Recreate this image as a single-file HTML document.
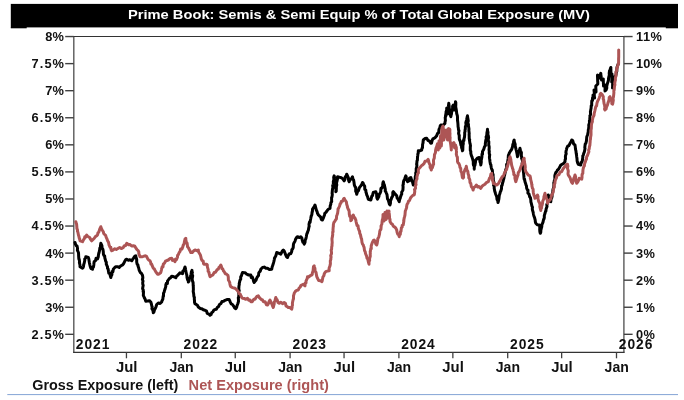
<!DOCTYPE html>
<html><head><meta charset="utf-8"><title>Prime Book</title>
<style>
html,body{margin:0;padding:0;background:#fff;}
body{width:684px;height:400px;overflow:hidden;}
svg{display:block;will-change:transform;transform:translateZ(0);filter:blur(0.3px);}
text{font-family:"Liberation Sans",sans-serif;font-weight:bold;}
</style></head><body>
<svg width="684" height="400" viewBox="0 0 684 400">
<rect x="0" y="0" width="684" height="400" fill="#ffffff"/>

<rect x="10.8" y="3.9" width="667.2" height="23.5" fill="#000"/>
<rect x="10.8" y="27" width="15.9" height="1.3" fill="#000"/>
<rect x="665.8" y="27" width="12.2" height="1.3" fill="#000"/>
<text x="359" y="19.4" font-size="13.2" text-anchor="middle" fill="#fff" style="font-weight:bold" textLength="462" lengthAdjust="spacingAndGlyphs">Prime Book: Semis &amp; Semi Equip % of Total Global Exposure (MV)</text>
<rect x="7.3" y="394" width="670.7" height="1.1" fill="#8facd9"/>
<path d="M73.8 36.5 V352.4 M623.9 36.5 V352.4" fill="none" stroke="#5a5a5a" stroke-width="1.4"/>
<path d="M73.1 36.5 H624.6 M73.1 352.4 H624.6" fill="none" stroke="#333" stroke-width="1.1"/>
<path d="M65.2 36.55 H73.8" stroke="#404040" stroke-width="1.4"/>
<text x="45.2" y="40.95" font-size="12.8" fill="#111" textLength="18.8" lengthAdjust="spacing">8%</text>
<path d="M65.2 63.62 H73.8" stroke="#404040" stroke-width="1.4"/>
<text x="31.5" y="68.02" font-size="12.8" fill="#111" textLength="32.5" lengthAdjust="spacing">7.5%</text>
<path d="M65.2 90.69 H73.8" stroke="#404040" stroke-width="1.4"/>
<text x="45.2" y="95.09" font-size="12.8" fill="#111" textLength="18.8" lengthAdjust="spacing">7%</text>
<path d="M65.2 117.76 H73.8" stroke="#404040" stroke-width="1.4"/>
<text x="31.5" y="122.16" font-size="12.8" fill="#111" textLength="32.5" lengthAdjust="spacing">6.5%</text>
<path d="M65.2 144.83 H73.8" stroke="#404040" stroke-width="1.4"/>
<text x="45.2" y="149.23" font-size="12.8" fill="#111" textLength="18.8" lengthAdjust="spacing">6%</text>
<path d="M65.2 171.90 H73.8" stroke="#404040" stroke-width="1.4"/>
<text x="31.5" y="176.30" font-size="12.8" fill="#111" textLength="32.5" lengthAdjust="spacing">5.5%</text>
<path d="M65.2 198.97 H73.8" stroke="#404040" stroke-width="1.4"/>
<text x="45.2" y="203.37" font-size="12.8" fill="#111" textLength="18.8" lengthAdjust="spacing">5%</text>
<path d="M65.2 226.04 H73.8" stroke="#404040" stroke-width="1.4"/>
<text x="31.5" y="230.44" font-size="12.8" fill="#111" textLength="32.5" lengthAdjust="spacing">4.5%</text>
<path d="M65.2 253.11 H73.8" stroke="#404040" stroke-width="1.4"/>
<text x="45.2" y="257.51" font-size="12.8" fill="#111" textLength="18.8" lengthAdjust="spacing">4%</text>
<path d="M65.2 280.18 H73.8" stroke="#404040" stroke-width="1.4"/>
<text x="31.5" y="284.58" font-size="12.8" fill="#111" textLength="32.5" lengthAdjust="spacing">3.5%</text>
<path d="M65.2 307.25 H73.8" stroke="#404040" stroke-width="1.4"/>
<text x="45.2" y="311.65" font-size="12.8" fill="#111" textLength="18.8" lengthAdjust="spacing">3%</text>
<path d="M65.2 334.32 H73.8" stroke="#404040" stroke-width="1.4"/>
<text x="31.5" y="338.72" font-size="12.8" fill="#111" textLength="32.5" lengthAdjust="spacing">2.5%</text>
<path d="M623.9 36.55 H632.6" stroke="#404040" stroke-width="1.4"/>
<text x="636" y="40.95" font-size="12.8" fill="#111" textLength="26" lengthAdjust="spacing">11%</text>
<path d="M623.9 63.62 H632.6" stroke="#404040" stroke-width="1.4"/>
<text x="636" y="68.02" font-size="12.8" fill="#111" textLength="26" lengthAdjust="spacing">10%</text>
<path d="M623.9 90.69 H632.6" stroke="#404040" stroke-width="1.4"/>
<text x="636" y="95.09" font-size="12.8" fill="#111" textLength="18.8" lengthAdjust="spacing">9%</text>
<path d="M623.9 117.76 H632.6" stroke="#404040" stroke-width="1.4"/>
<text x="636" y="122.16" font-size="12.8" fill="#111" textLength="18.8" lengthAdjust="spacing">8%</text>
<path d="M623.9 144.83 H632.6" stroke="#404040" stroke-width="1.4"/>
<text x="636" y="149.23" font-size="12.8" fill="#111" textLength="18.8" lengthAdjust="spacing">7%</text>
<path d="M623.9 171.90 H632.6" stroke="#404040" stroke-width="1.4"/>
<text x="636" y="176.30" font-size="12.8" fill="#111" textLength="18.8" lengthAdjust="spacing">6%</text>
<path d="M623.9 198.97 H632.6" stroke="#404040" stroke-width="1.4"/>
<text x="636" y="203.37" font-size="12.8" fill="#111" textLength="18.8" lengthAdjust="spacing">5%</text>
<path d="M623.9 226.04 H632.6" stroke="#404040" stroke-width="1.4"/>
<text x="636" y="230.44" font-size="12.8" fill="#111" textLength="18.8" lengthAdjust="spacing">4%</text>
<path d="M623.9 253.11 H632.6" stroke="#404040" stroke-width="1.4"/>
<text x="636" y="257.51" font-size="12.8" fill="#111" textLength="18.8" lengthAdjust="spacing">3%</text>
<path d="M623.9 280.18 H632.6" stroke="#404040" stroke-width="1.4"/>
<text x="636" y="284.58" font-size="12.8" fill="#111" textLength="18.8" lengthAdjust="spacing">2%</text>
<path d="M623.9 307.25 H632.6" stroke="#404040" stroke-width="1.4"/>
<text x="636" y="311.65" font-size="12.8" fill="#111" textLength="18.8" lengthAdjust="spacing">1%</text>
<path d="M623.9 334.32 H632.6" stroke="#404040" stroke-width="1.4"/>
<text x="636" y="338.72" font-size="12.8" fill="#111" textLength="18.8" lengthAdjust="spacing">0%</text>
<path d="M126.45 352.4 V358.3" stroke="#404040" stroke-width="1.3"/>
<text x="115.95" y="372.3" font-size="14" fill="#111" textLength="21.5" lengthAdjust="spacingAndGlyphs">Jul</text>
<path d="M235.25 352.4 V358.3" stroke="#404040" stroke-width="1.3"/>
<text x="224.75" y="372.3" font-size="14" fill="#111" textLength="21.5" lengthAdjust="spacingAndGlyphs">Jul</text>
<path d="M344.05 352.4 V358.3" stroke="#404040" stroke-width="1.3"/>
<text x="333.55" y="372.3" font-size="14" fill="#111" textLength="21.5" lengthAdjust="spacingAndGlyphs">Jul</text>
<path d="M452.85 352.4 V358.3" stroke="#404040" stroke-width="1.3"/>
<text x="442.35" y="372.3" font-size="14" fill="#111" textLength="21.5" lengthAdjust="spacingAndGlyphs">Jul</text>
<path d="M561.65 352.4 V358.3" stroke="#404040" stroke-width="1.3"/>
<text x="551.15" y="372.3" font-size="14" fill="#111" textLength="21.5" lengthAdjust="spacingAndGlyphs">Jul</text>
<path d="M181.30 352.4 V358.3" stroke="#404040" stroke-width="1.3"/>
<text x="169.40" y="372.3" font-size="14" fill="#111" textLength="24.2" lengthAdjust="spacingAndGlyphs">Jan</text>
<path d="M290.10 352.4 V358.3" stroke="#404040" stroke-width="1.3"/>
<text x="278.20" y="372.3" font-size="14" fill="#111" textLength="24.2" lengthAdjust="spacingAndGlyphs">Jan</text>
<path d="M398.90 352.4 V358.3" stroke="#404040" stroke-width="1.3"/>
<text x="387.00" y="372.3" font-size="14" fill="#111" textLength="24.2" lengthAdjust="spacingAndGlyphs">Jan</text>
<path d="M507.70 352.4 V358.3" stroke="#404040" stroke-width="1.3"/>
<text x="495.80" y="372.3" font-size="14" fill="#111" textLength="24.2" lengthAdjust="spacingAndGlyphs">Jan</text>
<path d="M616.50 352.4 V358.3" stroke="#404040" stroke-width="1.3"/>
<text x="604.60" y="372.3" font-size="14" fill="#111" textLength="24.2" lengthAdjust="spacingAndGlyphs">Jan</text>
<text x="75.80" y="348.9" font-size="13.8" fill="#111" textLength="33.6" lengthAdjust="spacing">2021</text>
<text x="183.60" y="348.9" font-size="13.8" fill="#111" textLength="33.6" lengthAdjust="spacing">2022</text>
<text x="292.40" y="348.9" font-size="13.8" fill="#111" textLength="33.6" lengthAdjust="spacing">2023</text>
<text x="401.20" y="348.9" font-size="13.8" fill="#111" textLength="33.6" lengthAdjust="spacing">2024</text>
<text x="510.00" y="348.9" font-size="13.8" fill="#111" textLength="33.6" lengthAdjust="spacing">2025</text>
<text x="618.80" y="348.9" font-size="13.8" fill="#111" textLength="33.6" lengthAdjust="spacing">2026</text>
<text x="32.3" y="389.8" font-size="14.3" fill="#111" textLength="146" lengthAdjust="spacingAndGlyphs">Gross Exposure (left)</text>
<text x="188.6" y="389.8" font-size="14.3" fill="#ad5555" textLength="140.3" lengthAdjust="spacingAndGlyphs">Net Exposure (right)</text>
<path d="M75.0 242.5 L75.4 244.0 L76.2 245.6 L77.0 245.9 L77.5 248.3 L77.4 250.6 L77.7 250.8 L78.5 252.8 L78.6 254.4 L78.6 255.2 L78.8 258.3 L79.0 259.6 L79.3 259.6 L79.6 262.3 L79.4 262.6 L80.0 265.1 L80.0 266.7 L82.5 268.3 L83.1 267.7 L83.5 266.3 L83.7 264.6 L84.1 263.5 L84.8 260.2 L84.7 259.0 L85.7 258.0 L85.8 256.7 L88.3 257.5 L88.7 258.6 L89.0 260.3 L89.3 262.3 L89.8 264.6 L90.2 266.2 L90.7 267.8 L90.8 268.3 L92.5 269.2 L93.0 267.0 L93.4 267.2 L93.8 264.9 L94.0 262.6 L94.2 261.7 L95.5 260.6 L96.1 258.2 L97.5 259.0 L98.3 256.7 L98.3 255.9 L98.8 253.0 L99.0 252.8 L99.7 249.7 L99.8 248.3 L100.1 247.4 L100.5 247.3 L100.5 245.9 L100.8 243.3 L101.2 244.0 L101.9 245.6 L102.1 248.1 L102.9 249.3 L103.3 251.7 L103.4 254.0 L103.9 255.7 L104.7 256.0 L104.8 257.8 L105.3 259.5 L105.6 261.0 L106.3 262.3 L106.3 264.3 L106.6 264.8 L107.5 266.8 L107.5 268.3 L108.1 268.8 L108.5 271.5 L108.8 273.2 L109.8 273.5 L110.3 275.9 L110.8 277.5 L111.4 275.5 L111.9 274.7 L112.0 271.6 L112.9 271.9 L113.3 269.2 L114.4 267.9 L115.8 266.7 L117.6 266.7 L119.2 267.5 L120.8 265.8 L122.5 265.0 L123.5 263.8 L124.5 261.8 L125.8 259.6 L126.7 259.2 L128.4 260.3 L129.9 259.7 L131.7 260.8 L132.9 259.0 L133.5 258.2 L134.9 256.2 L135.8 255.8 L135.9 257.0 L136.5 258.8 L136.7 259.7 L136.7 262.0 L137.1 264.0 L138.0 265.2 L138.0 266.1 L138.7 268.0 L139.2 270.3 L140.5 272.7 L141.2 273.1 L142.5 275.3 L142.8 277.2 L142.8 278.0 L142.4 279.5 L143.0 281.0 L142.7 282.8 L142.8 284.3 L143.2 285.3 L142.6 288.6 L143.3 290.2 L143.1 291.7 L143.5 291.6 L143.4 294.5 L143.3 295.3 L144.0 296.8 L144.4 297.9 L145.0 298.8 L145.8 301.2 L147.5 301.0 L149.4 300.7 L150.8 302.0 L151.4 304.0 L151.8 306.0 L152.2 306.8 L151.9 308.7 L152.4 309.3 L153.1 311.3 L153.3 312.8 L153.9 312.1 L154.7 309.1 L155.2 308.6 L156.0 306.8 L156.7 304.5 L158.3 303.0 L160.1 303.5 L161.7 302.0 L161.9 301.0 L162.8 299.3 L163.2 295.9 L163.5 296.1 L163.5 293.2 L164.2 292.0 L164.5 290.5 L165.1 288.9 L165.8 286.3 L165.8 285.0 L166.3 283.3 L167.4 283.5 L167.5 281.2 L168.3 280.0 L169.5 278.3 L170.5 277.8 L171.7 276.2 L173.8 276.7 L175.8 277.8 L176.6 276.2 L177.6 275.4 L179.1 273.8 L180.0 272.8 L182.5 273.7 L182.8 271.3 L183.7 270.6 L184.6 268.4 L185.0 267.0 L185.5 268.8 L185.6 269.7 L186.0 271.9 L186.3 273.4 L186.6 273.9 L187.0 276.4 L187.0 277.3 L187.6 279.8 L188.3 280.2 L188.3 282.0 L189.0 281.2 L189.1 279.0 L189.4 278.3 L190.3 277.0 L190.8 275.1 L191.2 273.4 L191.3 272.0 L192.0 270.3 L191.8 271.1 L192.4 272.4 L192.0 274.0 L192.7 275.7 L192.2 278.7 L192.3 280.3 L192.8 281.8 L193.1 282.8 L193.1 283.1 L193.2 285.7 L193.3 286.4 L193.4 289.7 L193.3 290.3 L193.2 291.4 L193.7 294.0 L193.7 294.1 L193.9 296.5 L194.4 297.5 L194.3 299.0 L194.5 300.5 L194.5 302.2 L195.0 303.7 L196.4 304.6 L197.4 305.2 L198.3 307.0 L200.1 308.4 L201.8 308.7 L203.3 309.8 L205.0 310.3 L206.5 310.8 L207.2 313.3 L209.0 314.1 L210.0 315.3 L211.0 314.6 L211.8 312.5 L212.8 312.0 L213.9 310.1 L215.0 309.5 L216.3 309.3 L217.2 307.6 L218.4 306.8 L219.7 304.3 L220.8 303.7 L222.0 301.5 L223.6 301.2 L225.0 300.3 L226.9 299.6 L229.2 299.5 L230.2 301.8 L231.2 303.9 L232.5 304.5 L233.6 306.1 L234.7 308.0 L235.8 308.7 L236.7 307.2 L237.0 305.8 L237.9 303.5 L238.3 302.0 L238.5 301.5 L238.4 298.4 L238.3 297.9 L238.7 296.9 L238.9 293.8 L238.5 292.3 L238.6 291.8 L239.2 290.7 L238.8 289.1 L238.9 286.6 L239.3 284.3 L239.2 283.7 L239.4 282.8 L240.0 280.2 L240.7 279.3 L240.7 276.9 L241.5 275.7 L241.8 274.3 L242.5 272.5 L244.2 272.8 L245.3 272.8 L246.7 274.2 L248.6 275.0 L250.8 275.0 L251.2 277.4 L252.4 277.1 L253.1 279.2 L253.7 281.6 L254.2 282.5 L254.9 281.4 L256.0 280.3 L256.5 278.7 L257.5 276.7 L258.5 275.6 L258.8 272.8 L259.5 271.9 L260.3 271.1 L260.8 269.2 L262.5 267.5 L264.2 267.1 L265.9 268.3 L267.5 268.3 L269.4 269.6 L271.7 269.2 L272.2 266.8 L272.8 265.3 L272.8 265.1 L273.4 263.2 L273.9 261.4 L274.2 260.0 L274.6 257.8 L274.9 257.5 L275.9 255.6 L276.4 253.7 L276.7 252.5 L278.6 253.1 L280.8 254.2 L281.9 251.8 L282.5 250.8 L283.3 250.0 L284.3 251.2 L284.9 252.8 L285.8 255.1 L286.6 256.8 L287.5 257.5 L288.3 255.5 L289.3 253.7 L290.8 253.7 L291.7 251.7 L291.9 249.5 L292.5 249.2 L293.2 247.6 L293.4 244.8 L293.7 243.4 L294.2 242.5 L295.0 241.2 L295.6 239.1 L296.9 237.1 L297.5 236.7 L299.4 237.6 L300.8 236.7 L301.8 237.9 L302.2 239.9 L302.9 242.2 L303.7 242.3 L304.2 244.2 L304.9 242.7 L305.1 241.8 L305.1 240.4 L306.0 238.3 L306.3 236.8 L306.5 235.5 L306.8 234.0 L307.5 232.5 L308.0 230.8 L308.3 230.4 L308.9 227.0 L309.2 226.5 L309.0 224.3 L309.5 222.1 L310.1 222.4 L310.3 220.7 L310.8 218.3 L311.2 216.0 L311.6 215.5 L311.9 214.2 L312.1 211.9 L312.4 211.7 L312.5 209.2 L313.6 207.7 L314.3 206.4 L315.0 205.0 L315.2 205.7 L315.7 207.7 L316.3 210.0 L317.1 211.7 L317.5 213.3 L318.4 215.0 L319.4 215.9 L320.7 217.1 L321.3 219.5 L322.5 220.0 L323.3 218.2 L323.7 217.1 L324.5 214.9 L324.8 213.4 L325.8 212.5 L327.4 210.3 L328.6 209.0 L330.0 208.3 L330.2 205.9 L330.8 204.3 L330.9 202.5 L331.7 201.7 L331.6 200.1 L331.6 197.6 L332.0 196.9 L332.3 194.6 L332.2 193.8 L332.1 193.5 L332.4 190.0 L332.7 188.7 L332.9 187.5 L332.7 185.3 L333.2 184.3 L333.4 183.2 L333.3 181.7 L333.9 179.3 L333.7 177.3 L334.2 175.8 L334.6 177.7 L334.4 178.1 L334.8 181.6 L334.9 181.1 L334.7 182.8 L334.9 184.3 L335.0 187.3 L335.8 187.9 L336.0 190.1 L335.8 191.7 L336.2 191.1 L336.4 187.7 L336.2 187.4 L336.8 184.8 L336.5 185.0 L336.6 182.5 L336.9 181.6 L337.5 179.0 L337.5 178.7 L337.5 176.7 L339.4 177.2 L340.8 177.5 L342.2 178.3 L343.0 179.1 L344.2 180.8 L345.0 179.1 L345.3 176.8 L346.2 176.1 L346.7 174.2 L347.3 175.5 L347.7 176.4 L348.3 177.7 L348.7 180.8 L349.2 181.7 L350.4 179.1 L351.2 179.1 L352.5 176.7 L353.0 179.2 L353.6 179.9 L354.0 182.2 L354.1 183.1 L354.3 184.8 L355.0 186.7 L355.7 187.3 L355.7 188.8 L355.7 191.5 L356.2 191.7 L356.7 194.2 L357.1 193.0 L358.1 190.1 L358.5 190.7 L359.1 188.3 L360.0 186.7 L360.8 185.9 L361.7 184.5 L362.5 182.5 L363.2 183.3 L363.6 184.6 L364.7 186.1 L364.8 189.5 L365.8 190.0 L366.0 192.4 L366.3 193.0 L366.9 195.3 L367.5 196.4 L368.1 198.5 L368.3 199.2 L370.8 200.0 L371.2 198.7 L371.8 196.1 L372.5 195.7 L373.0 193.4 L373.3 192.5 L375.8 191.7 L376.2 193.1 L376.6 193.8 L376.7 196.2 L376.9 197.8 L377.5 199.2 L378.3 197.6 L378.9 196.5 L379.2 194.4 L380.0 193.3 L380.8 191.5 L380.8 189.5 L381.0 188.2 L382.0 188.0 L382.3 187.1 L382.6 185.5 L382.9 183.0 L383.3 181.7 L384.0 184.3 L384.4 185.0 L384.7 186.5 L385.3 189.3 L385.2 191.0 L385.8 191.7 L386.1 192.5 L387.0 194.6 L387.3 197.0 L387.5 198.9 L388.3 200.0 L388.7 201.5 L389.3 203.9 L390.0 205.0 L390.5 203.0 L390.4 201.6 L391.0 199.6 L391.1 199.6 L391.7 197.5 L392.2 197.1 L392.8 195.4 L392.8 192.4 L393.3 191.7 L394.3 193.0 L395.6 194.5 L396.7 195.8 L397.2 198.1 L397.8 198.7 L398.8 200.9 L399.2 201.7 L399.6 199.6 L400.4 197.6 L400.4 197.3 L401.2 195.0 L401.7 194.2 L401.7 192.0 L402.4 191.0 L402.9 190.1 L403.1 186.9 L402.9 185.2 L403.3 184.4 L403.3 183.3 L403.6 181.2 L404.2 180.0 L404.8 178.6 L405.8 175.8 L406.2 176.7 L406.3 178.6 L407.2 180.6 L407.5 181.7 L408.9 181.0 L409.5 178.1 L410.8 177.5 L411.5 179.6 L411.8 181.2 L412.3 181.5 L412.6 182.4 L413.3 185.0 L413.8 184.2 L414.4 181.6 L414.7 180.9 L415.2 178.6 L415.3 176.7 L415.8 175.0 L415.7 172.7 L416.2 173.0 L416.2 170.1 L416.2 168.7 L416.7 167.1 L416.9 164.9 L416.6 164.2 L416.8 163.3 L417.0 161.0 L417.4 160.2 L417.5 156.6 L417.7 156.0 L417.9 153.7 L418.2 153.4 L418.3 150.8 L419.7 150.8 L421.7 150.0 L421.9 148.4 L422.5 147.7 L422.6 144.3 L423.1 142.6 L423.0 142.4 L423.3 140.0 L424.9 138.6 L426.7 138.3 L428.0 140.5 L428.6 140.6 L429.6 141.2 L430.8 143.3 L431.5 143.1 L432.2 140.2 L433.1 138.6 L434.2 138.3 L435.2 137.6 L436.5 136.1 L437.5 133.5 L438.3 133.3 L438.6 132.7 L439.0 129.5 L439.8 127.8 L440.3 125.7 L440.8 125.0 L442.0 125.4 L443.4 124.8 L445.0 123.3 L444.9 122.8 L445.4 120.4 L445.2 117.5 L445.8 116.1 L445.5 115.9 L446.1 112.6 L446.0 112.0 L446.7 110.1 L446.7 108.0 L446.8 108.6 L447.1 112.1 L447.2 111.7 L447.6 114.0 L447.5 111.7 L447.8 111.9 L447.8 108.7 L448.6 109.0 L448.8 105.8 L448.5 105.8 L448.8 103.3 L449.0 105.5 L449.1 105.7 L449.3 109.1 L449.8 110.4 L449.8 112.0 L450.1 113.7 L450.4 115.2 L450.8 116.7 L451.3 114.4 L451.4 114.3 L451.8 111.0 L451.8 110.0 L452.6 109.1 L452.6 106.2 L453.3 105.0 L453.4 105.7 L454.3 108.1 L454.3 110.0 L454.8 107.5 L454.4 107.5 L455.2 106.1 L455.4 103.4 L455.5 101.7 L455.8 102.5 L455.8 104.9 L455.7 106.9 L456.0 108.4 L456.3 110.0 L456.5 111.3 L456.7 113.5 L457.4 115.9 L457.5 117.4 L457.5 118.3 L457.5 120.9 L457.6 120.5 L457.9 123.4 L458.0 124.8 L458.1 127.0 L458.3 127.5 L458.5 129.9 L459.0 130.6 L458.7 132.4 L458.6 133.5 L459.3 135.8 L459.2 136.7 L459.3 139.0 L459.9 140.9 L460.2 140.8 L460.7 143.8 L461.0 145.3 L461.5 145.8 L461.6 147.7 L462.1 149.0 L462.5 150.8 L462.8 150.0 L462.9 146.8 L462.9 145.7 L463.3 143.6 L463.2 142.4 L463.5 140.2 L463.9 140.5 L464.1 138.5 L464.5 137.1 L464.7 134.7 L464.7 132.4 L465.1 131.3 L465.0 130.0 L465.3 129.3 L465.4 126.2 L466.1 125.5 L465.8 122.7 L466.3 121.0 L466.9 119.8 L466.8 118.7 L467.2 117.2 L467.5 115.8 L467.7 117.7 L467.8 118.1 L468.3 121.0 L467.8 122.0 L468.5 124.8 L468.1 124.3 L468.6 126.8 L469.0 129.2 L468.8 129.9 L469.1 132.6 L469.2 133.3 L469.1 134.6 L469.2 136.7 L469.2 138.9 L469.7 139.6 L469.5 140.4 L469.9 143.3 L470.1 143.6 L470.5 146.0 L470.3 146.5 L470.3 149.6 L470.3 150.3 L470.8 151.4 L470.8 153.3 L471.5 155.9 L472.1 157.2 L472.1 157.4 L472.8 159.6 L473.3 161.7 L473.3 164.0 L473.5 165.4 L474.1 165.4 L474.3 167.5 L474.2 169.2 L474.3 167.0 L474.4 166.1 L474.9 165.4 L475.5 162.1 L475.5 161.3 L475.8 160.0 L477.3 158.2 L479.2 157.5 L479.4 159.4 L479.7 159.6 L480.0 161.9 L480.5 162.9 L480.8 165.0 L481.2 162.7 L481.3 161.9 L481.2 160.6 L481.6 158.4 L481.9 157.0 L482.0 154.0 L482.5 154.2 L482.5 151.7 L483.1 150.4 L483.6 149.7 L484.5 146.8 L485.0 146.0 L485.4 145.5 L485.3 144.0 L485.7 140.7 L486.1 139.5 L486.3 138.5 L486.1 136.9 L486.8 135.3 L486.8 134.6 L487.0 132.2 L487.3 131.4 L487.5 129.2 L487.4 129.9 L488.0 132.4 L487.8 134.8 L488.3 135.6 L488.6 137.8 L488.5 138.1 L488.1 140.6 L488.8 141.4 L488.8 143.4 L488.7 145.3 L489.1 146.2 L489.2 148.0 L489.0 149.6 L489.3 151.5 L489.2 152.3 L489.3 153.9 L489.7 154.7 L489.4 157.1 L489.6 158.7 L489.7 159.3 L490.0 161.7 L490.4 164.1 L490.9 164.7 L490.9 165.2 L491.2 167.3 L491.7 169.2 L492.3 169.9 L492.5 172.2 L492.5 173.2 L493.1 174.6 L493.1 176.8 L493.3 178.3 L493.2 179.4 L493.9 182.3 L493.9 184.2 L493.6 185.4 L494.2 186.0 L494.2 188.3 L494.7 191.0 L495.1 192.2 L495.5 193.7 L496.0 195.0 L496.7 196.7 L497.0 199.4 L497.7 200.6 L498.0 202.5 L498.5 200.8 L498.9 198.9 L499.0 198.1 L499.3 195.4 L499.4 195.1 L500.0 193.3 L500.2 192.2 L500.8 191.0 L501.5 188.8 L501.6 185.6 L502.1 185.5 L502.5 183.3 L503.2 181.0 L503.1 181.0 L503.9 178.3 L504.3 175.9 L504.6 175.3 L505.0 173.3 L505.5 170.9 L505.6 170.3 L506.5 167.6 L506.7 166.7 L506.6 164.3 L507.5 163.5 L507.5 163.3 L507.9 160.2 L508.2 158.2 L508.2 158.2 L508.4 155.2 L508.9 154.4 L509.2 153.3 L510.4 151.1 L511.1 150.3 L511.7 149.2 L512.3 147.5 L512.7 145.8 L512.8 144.5 L513.6 142.7 L513.6 141.3 L514.2 140.0 L514.2 141.3 L514.9 143.4 L515.2 144.5 L515.1 145.6 L515.8 148.3 L516.0 149.3 L516.5 151.1 L517.0 153.6 L517.3 155.5 L517.5 156.7 L518.0 154.9 L518.4 152.4 L519.2 151.7 L519.2 150.9 L520.0 148.3 L520.4 150.3 L520.6 150.8 L521.4 152.6 L521.3 156.1 L521.7 156.7 L521.6 158.4 L522.1 159.5 L522.6 161.5 L522.2 163.3 L522.4 165.5 L523.2 167.6 L522.8 168.7 L523.3 170.0 L523.4 171.6 L523.6 172.9 L523.8 175.3 L524.0 177.7 L524.2 179.4 L524.5 179.1 L525.0 181.7 L525.6 183.4 L526.0 185.0 L526.4 185.7 L526.7 188.3 L527.3 189.8 L528.0 190.1 L527.9 193.1 L529.0 194.0 L529.4 195.7 L529.7 197.0 L530.4 197.5 L530.8 200.0 L530.9 202.0 L531.2 202.9 L531.5 204.1 L532.0 206.4 L532.5 207.3 L532.3 208.5 L532.4 209.8 L533.1 212.1 L533.3 213.3 L533.5 214.3 L533.9 215.9 L534.6 217.8 L535.2 220.1 L535.3 221.5 L535.8 223.3 L537.2 224.7 L539.2 225.0 L539.6 226.4 L539.8 227.8 L539.7 229.4 L539.9 231.9 L540.3 233.3 L540.8 232.1 L540.8 230.6 L541.4 228.0 L541.8 226.5 L541.9 224.7 L542.5 223.3 L543.0 222.1 L543.6 219.3 L544.0 219.0 L544.3 217.7 L544.3 215.6 L545.0 213.3 L545.7 210.8 L545.9 211.0 L546.1 209.1 L547.0 206.5 L546.8 204.3 L547.5 203.3 L547.9 201.5 L547.7 199.9 L548.3 197.8 L547.8 197.6 L548.3 195.0 L548.8 196.4 L549.9 197.9 L549.9 200.9 L550.8 201.7 L551.0 199.4 L551.8 197.7 L552.1 196.3 L552.0 194.4 L552.5 193.3 L552.8 191.8 L552.9 190.0 L553.1 189.1 L553.8 187.2 L553.9 184.1 L553.8 182.7 L554.2 181.7 L554.2 181.1 L554.9 179.3 L554.8 175.8 L555.0 175.0 L555.8 172.4 L556.9 171.2 L557.5 170.0 L558.5 169.3 L559.5 167.6 L560.8 165.0 L562.1 164.3 L563.3 163.7 L565.0 161.7 L565.1 159.9 L565.5 158.9 L565.4 156.4 L565.8 154.7 L566.2 153.9 L565.9 152.4 L566.1 150.9 L566.5 149.6 L566.7 148.3 L567.7 146.2 L568.9 145.6 L570.0 143.3 L570.8 142.2 L571.7 140.0 L572.8 140.8 L573.7 144.1 L575.0 145.0 L575.2 146.4 L575.5 149.1 L575.6 149.7 L575.9 150.6 L576.2 153.3 L576.5 154.9 L576.7 156.7 L577.0 158.7 L577.1 160.8 L577.4 162.0 L577.8 163.3 L578.3 164.2 L580.8 165.0 L581.0 162.4 L581.7 162.4 L582.3 160.8 L582.8 157.4 L582.8 155.8 L583.3 155.0 L583.8 153.2 L584.2 152.3 L584.7 150.4 L585.0 148.4 L584.8 147.5 L585.2 144.1 L585.8 143.3 L586.4 141.2 L586.6 138.9 L586.6 138.8 L586.8 136.7 L587.5 135.0 L588.1 132.7 L588.2 132.2 L588.3 130.0 L588.6 128.9 L588.9 125.6 L588.7 125.1 L589.5 122.7 L589.4 120.9 L589.8 119.9 L589.8 118.7 L590.0 116.7 L589.9 115.7 L590.6 114.5 L590.4 111.6 L590.5 111.6 L590.9 109.0 L591.1 108.2 L591.2 105.9 L591.7 105.4 L591.7 103.3 L591.8 100.7 L592.5 100.5 L592.5 98.1 L593.1 96.5 L593.0 95.0 L593.6 95.6 L594.6 98.0 L594.4 96.6 L594.3 95.8 L594.3 93.1 L594.2 91.8 L594.0 90.0 L596.0 92.0 L596.0 90.8 L595.9 89.0 L595.8 87.6 L595.8 86.0 L597.8 84.0 L597.8 82.5 L597.7 81.7 L597.6 78.8 L597.6 78.6 L597.5 76.1 L597.5 75.0 L598.7 75.6 L599.5 78.0 L599.9 76.3 L600.5 74.2 L600.8 73.3 L600.8 74.2 L601.2 76.8 L601.0 77.6 L601.5 80.0 L603.3 79.0 L603.3 80.1 L603.4 83.5 L603.5 84.2 L603.5 86.0 L605.2 85.0 L605.2 86.6 L605.1 87.5 L605.0 89.9 L605.0 91.0 L606.1 89.9 L606.8 88.0 L606.7 86.3 L607.3 83.9 L607.5 83.3 L608.2 81.3 L608.5 80.0 L608.5 78.6 L608.9 76.6 L609.3 75.0 L609.2 73.3 L609.5 70.9 L610.0 70.1 L610.4 68.6 L610.8 67.5 L610.8 67.9 L610.9 69.5 L610.9 71.2 L611.0 72.6 L611.0 75.0 L612.0 74.0 L611.9 76.4 L611.9 77.4 L611.8 78.2 L611.8 80.9 L611.7 82.0 L612.8 82.0 L612.7 83.8 L612.6 84.0 L612.6 87.1 L612.5 88.0 L612.6 87.6 L612.8 84.5 L613.2 84.3 L613.9 82.2 L613.8 80.3 L614.3 79.0 L614.9 76.3 L615.6 76.3 L616.1 74.2 L616.3 72.0 L616.8 71.4 L616.9 68.4 L617.2 66.5 L618.0 64.7 L618.2 64.0" fill="none" stroke="#000" stroke-width="3.0" stroke-linejoin="round" stroke-linecap="round"/>
<path d="M75.8 221.7 L76.0 222.6 L76.6 224.1 L76.8 226.4 L76.9 228.4 L77.5 230.0 L77.5 231.4 L77.9 232.2 L78.5 235.3 L78.7 235.6 L79.4 238.7 L79.7 239.0 L80.0 240.8 L82.5 241.7 L83.7 239.4 L84.4 238.6 L84.8 236.8 L85.7 237.0 L86.7 235.0 L87.5 236.3 L88.8 237.0 L89.7 237.5 L90.4 239.0 L91.7 240.8 L93.1 239.4 L94.1 238.5 L95.4 236.6 L96.7 235.8 L97.6 234.7 L97.9 232.9 L98.8 232.1 L99.6 229.3 L100.5 227.4 L100.8 226.7 L101.6 228.9 L102.2 230.0 L103.3 231.7 L103.7 233.5 L104.9 234.7 L105.7 235.6 L106.3 237.6 L106.9 238.7 L107.8 241.2 L108.3 241.7 L108.8 243.6 L109.1 245.2 L110.1 247.3 L110.8 247.3 L111.1 249.7 L111.7 250.8 L113.0 250.1 L114.8 248.7 L116.3 249.5 L118.3 248.3 L119.7 247.5 L121.6 248.6 L123.3 247.5 L124.1 246.0 L125.6 245.5 L126.7 243.3 L128.6 244.7 L129.8 244.4 L131.6 246.0 L133.3 245.8 L134.9 246.3 L135.6 247.7 L136.9 249.5 L138.3 250.8 L138.8 251.8 L138.8 253.6 L139.5 255.4 L140.0 256.7 L142.0 256.8 L143.3 256.4 L145.0 255.8 L146.4 256.1 L147.8 258.9 L149.0 260.2 L150.0 260.8 L150.6 262.1 L151.0 264.1 L151.7 264.3 L152.4 266.1 L153.3 268.3 L154.2 268.8 L155.1 270.5 L156.2 272.4 L157.5 274.2 L158.8 274.2 L160.8 272.5 L161.4 270.1 L161.6 268.8 L162.2 266.7 L163.0 266.9 L163.3 264.2 L164.5 263.1 L165.5 261.2 L166.9 260.5 L168.3 260.0 L170.2 258.4 L171.7 258.3 L172.5 260.4 L173.9 259.8 L175.0 261.7 L175.7 259.1 L176.4 259.7 L177.4 257.5 L177.6 255.3 L178.3 254.6 L179.2 252.5 L180.0 251.6 L180.7 248.9 L181.9 249.1 L182.7 247.2 L183.3 245.0 L184.1 243.9 L184.4 241.7 L185.1 238.9 L185.8 238.3 L185.8 239.5 L186.3 242.1 L187.1 243.2 L187.5 246.1 L187.5 246.7 L188.6 247.9 L189.0 249.0 L189.8 250.4 L190.8 252.5 L192.3 252.5 L193.8 250.8 L195.0 250.0 L196.8 250.7 L198.3 250.0 L198.6 252.0 L199.8 254.0 L200.4 255.0 L200.8 256.7 L201.3 258.8 L202.0 260.4 L203.2 261.0 L203.5 263.7 L204.2 264.2 L206.7 264.2 L207.3 265.0 L207.3 266.6 L208.2 269.6 L208.1 271.2 L209.1 272.4 L209.1 273.7 L209.3 274.1 L210.0 276.7 L211.7 275.6 L212.8 274.9 L214.2 272.5 L215.5 272.2 L217.2 269.7 L218.3 269.2 L219.0 267.3 L219.8 266.6 L220.8 265.0 L221.3 266.2 L221.9 268.6 L222.7 268.9 L223.6 271.2 L224.2 271.7 L225.2 273.7 L226.4 274.0 L227.5 275.0 L227.9 275.4 L228.3 277.2 L228.4 280.0 L228.9 280.8 L229.7 282.4 L229.9 283.8 L230.4 285.9 L230.8 286.7 L232.6 287.6 L235.0 288.3 L235.9 288.9 L237.4 290.6 L238.3 291.7 L239.2 293.6 L240.3 294.2 L240.9 295.7 L241.7 297.4 L242.5 298.3 L244.1 298.4 L245.8 299.3 L247.5 298.3 L248.7 300.3 L250.0 300.0 L250.8 301.7 L252.2 301.8 L253.8 299.2 L255.0 299.2 L255.8 297.9 L256.9 296.4 L258.3 295.8 L259.4 297.6 L261.3 299.5 L262.5 300.0 L263.5 301.7 L265.1 301.7 L266.5 304.8 L267.5 305.0 L268.1 304.3 L269.1 301.6 L270.0 300.0 L271.0 302.2 L271.1 302.8 L272.0 304.1 L272.4 305.6 L273.3 307.5 L273.9 304.8 L274.2 304.0 L274.2 302.1 L275.1 300.9 L275.1 300.2 L275.8 297.5 L276.9 300.0 L277.2 299.9 L278.0 302.5 L279.2 303.3 L280.7 302.2 L282.5 303.7 L284.2 302.5 L285.4 303.2 L286.0 305.9 L287.3 306.7 L288.3 307.5 L289.7 307.4 L291.7 309.2 L292.1 307.4 L291.9 307.0 L292.5 305.1 L292.4 303.6 L292.6 302.0 L293.2 299.3 L293.5 299.0 L293.5 295.7 L294.0 294.3 L294.2 293.3 L295.3 291.5 L296.6 290.4 L298.3 290.0 L299.0 288.3 L300.2 287.0 L300.9 285.5 L301.7 285.0 L303.2 284.3 L305.0 285.8 L305.2 283.2 L306.0 282.9 L306.0 281.2 L307.0 278.9 L307.3 278.1 L307.5 276.7 L308.9 276.9 L310.2 275.6 L311.7 275.0 L312.2 274.5 L312.4 272.7 L313.1 270.7 L313.3 268.5 L313.5 266.5 L314.2 265.8 L314.3 267.9 L314.9 268.2 L315.1 271.2 L316.1 272.4 L316.1 273.0 L316.5 275.1 L316.8 276.6 L317.5 278.3 L318.7 280.4 L320.6 280.7 L321.7 281.7 L322.1 281.2 L322.7 278.3 L323.0 276.8 L323.9 275.6 L324.2 274.0 L325.0 272.5 L326.1 271.4 L327.5 271.1 L329.2 270.8 L329.1 268.2 L329.5 267.1 L329.9 266.2 L330.2 264.9 L330.4 263.8 L330.3 261.0 L330.9 259.1 L330.8 258.3 L331.1 257.0 L330.7 255.7 L331.5 253.6 L331.5 252.4 L331.2 250.1 L331.6 249.1 L331.7 246.7 L332.0 245.9 L332.0 244.5 L332.2 242.5 L332.0 239.5 L332.0 238.6 L332.1 238.1 L332.5 236.1 L332.7 234.7 L332.7 231.7 L333.1 231.7 L333.0 229.7 L333.2 227.1 L333.4 226.0 L333.3 225.0 L333.8 222.7 L335.1 220.8 L335.8 219.6 L336.4 219.0 L336.6 216.0 L337.0 215.0 L337.6 213.2 L338.0 210.4 L338.0 209.1 L338.7 208.0 L339.6 206.0 L340.1 203.8 L340.8 203.3 L341.3 201.5 L342.6 201.2 L343.5 199.1 L344.2 198.3 L344.8 199.7 L345.4 200.4 L346.4 202.1 L346.7 204.2 L347.5 206.7 L347.4 207.1 L348.4 209.7 L348.7 209.7 L349.2 211.7 L349.3 214.2 L349.5 214.9 L349.7 216.3 L350.6 217.0 L350.8 219.3 L350.8 220.8 L351.7 219.8 L351.9 218.8 L352.7 215.4 L353.3 215.0 L353.8 216.6 L354.9 217.9 L355.8 220.0 L356.0 221.3 L356.7 224.1 L357.0 225.5 L358.0 225.8 L358.3 228.3 L359.1 230.4 L359.6 231.2 L359.7 233.1 L360.6 235.2 L360.8 236.7 L361.2 238.2 L361.6 239.0 L362.0 242.4 L362.6 244.3 L363.3 245.0 L363.5 246.0 L364.1 247.4 L364.5 250.6 L365.2 251.8 L365.5 253.6 L365.8 254.2 L366.7 256.4 L367.0 258.3 L367.7 258.8 L368.2 261.1 L368.7 263.0 L369.0 264.2 L369.0 261.7 L369.7 260.3 L369.5 259.3 L369.6 258.7 L370.3 256.1 L370.2 254.7 L370.3 253.4 L370.2 251.3 L370.4 251.4 L370.8 248.4 L371.3 248.6 L371.2 246.0 L371.9 243.7 L372.5 242.1 L373.3 240.6 L374.2 240.0 L374.9 241.1 L375.9 244.2 L376.7 245.0 L377.2 243.3 L377.4 242.1 L377.7 240.3 L377.8 238.7 L378.8 236.9 L378.9 236.5 L379.5 234.1 L379.6 233.3 L379.8 231.2 L380.2 230.1 L380.9 229.4 L381.2 226.1 L381.0 226.0 L381.9 224.0 L382.0 222.5 L382.3 219.8 L382.3 220.2 L382.8 218.5 L383.1 215.5 L383.0 214.5 L383.0 215.4 L383.5 218.2 L384.1 219.9 L384.0 221.0 L384.3 219.9 L384.4 217.7 L384.3 216.5 L384.6 215.1 L385.0 212.5 L385.4 213.8 L385.2 215.5 L385.8 218.2 L386.0 219.5 L385.9 216.9 L386.4 216.3 L386.5 213.8 L386.9 211.6 L387.0 211.0 L387.1 212.7 L387.8 214.8 L388.0 216.2 L388.0 218.0 L388.1 215.7 L388.8 215.0 L388.6 211.7 L389.0 211.0 L389.1 212.9 L389.2 213.5 L389.5 216.4 L389.4 216.0 L389.6 218.3 L390.0 219.3 L390.0 221.5 L391.3 223.6 L392.2 224.0 L393.3 226.2 L394.8 227.1 L395.8 228.1 L396.7 230.0 L397.1 232.2 L397.8 234.3 L398.6 234.3 L399.2 236.7 L399.5 234.9 L400.3 234.5 L400.5 231.6 L401.0 231.3 L401.4 227.6 L402.2 227.0 L402.2 225.3 L403.2 224.9 L403.4 223.7 L403.9 220.7 L403.7 220.6 L404.4 217.1 L404.6 216.7 L405.0 214.9 L405.1 213.3 L405.3 211.0 L405.6 210.3 L406.4 208.2 L406.7 206.9 L406.6 206.7 L407.0 204.5 L408.1 202.7 L408.4 201.2 L409.5 200.5 L410.5 198.0 L411.5 196.7 L413.2 195.0 L414.2 195.0 L414.4 194.2 L414.8 191.0 L414.5 189.5 L415.4 188.5 L415.5 188.4 L415.4 185.5 L416.1 184.8 L415.8 183.5 L416.1 181.0 L416.1 180.6 L417.0 178.8 L416.9 177.0 L417.6 174.3 L417.5 173.7 L418.4 173.1 L418.3 169.9 L418.8 168.8 L420.0 167.5 L421.6 165.6 L422.5 165.0 L424.0 163.7 L425.0 161.3 L426.8 161.0 L428.1 159.4 L428.6 160.5 L428.8 162.0 L429.4 163.8 L430.1 164.4 L430.1 167.5 L430.6 167.5 L431.3 170.0 L431.6 168.4 L432.4 167.7 L433.1 165.0 L433.6 164.3 L433.5 160.6 L433.6 159.8 L434.3 157.9 L434.4 156.3 L434.5 154.5 L435.1 153.5 L435.5 152.3 L435.6 150.0 L436.2 147.6 L436.8 146.4 L437.1 145.1 L437.5 143.8 L437.8 144.7 L437.7 146.3 L437.8 149.3 L438.2 150.0 L438.4 148.1 L438.4 148.1 L438.6 144.9 L438.9 144.3 L439.2 141.6 L439.0 141.0 L439.2 143.5 L439.6 145.4 L439.3 145.8 L439.8 148.0 L439.6 145.8 L440.3 145.2 L440.4 143.2 L440.4 141.9 L440.1 141.1 L440.6 138.1 L440.5 137.8 L440.5 136.0 L440.4 137.4 L440.5 138.7 L440.7 141.2 L441.1 142.0 L440.8 144.0 L441.3 146.0 L441.5 143.8 L441.3 142.3 L441.7 141.6 L441.2 139.1 L441.5 138.6 L441.7 136.1 L441.5 135.9 L441.7 133.5 L441.7 133.5 L441.8 131.1 L441.8 129.3 L442.0 128.0 L443.0 126.0 L443.3 128.6 L443.1 128.4 L443.4 130.0 L443.0 133.1 L443.4 134.5 L443.5 136.2 L443.6 136.1 L443.4 138.6 L443.8 140.0 L444.0 139.2 L443.8 136.9 L444.1 135.0 L444.1 132.9 L444.5 132.6 L444.6 130.0 L444.6 131.7 L445.3 134.5 L445.1 134.4 L445.6 137.0 L446.1 136.3 L446.0 132.5 L446.6 131.5 L446.5 130.0 L446.9 131.9 L447.1 132.6 L447.2 134.4 L447.1 137.4 L447.6 137.6 L447.5 140.0 L447.4 138.1 L447.8 136.5 L447.7 134.5 L448.2 134.3 L447.9 131.9 L448.5 129.1 L448.5 128.5 L449.6 129.0 L449.9 129.8 L449.8 132.4 L450.0 133.4 L449.9 135.7 L450.0 137.5 L450.1 138.6 L449.9 140.6 L450.3 142.0 L450.5 143.0 L450.9 145.8 L450.9 146.1 L451.1 147.5 L451.3 150.0 L451.3 148.3 L451.5 146.9 L452.1 144.5 L452.3 144.0 L453.8 142.5 L454.2 143.4 L454.5 146.8 L454.6 148.0 L455.1 145.5 L455.6 145.0 L455.8 146.3 L456.3 147.4 L456.4 150.9 L456.5 152.2 L456.3 154.1 L456.7 155.7 L456.9 156.3 L457.4 157.2 L457.5 160.6 L457.5 161.3 L457.8 162.5 L458.9 163.6 L459.7 165.5 L460.0 167.5 L460.7 168.2 L460.9 171.5 L461.1 171.5 L461.8 173.2 L461.9 174.4 L462.4 177.5 L463.1 178.1 L463.6 177.3 L463.5 175.3 L463.8 173.1 L464.4 171.3 L465.1 169.3 L465.9 168.1 L466.3 166.3 L466.7 168.6 L466.7 170.4 L467.5 170.6 L467.9 171.8 L468.1 173.8 L468.8 175.7 L468.8 177.9 L469.2 178.3 L469.8 179.8 L470.0 182.5 L470.8 183.5 L471.3 186.6 L471.9 187.4 L472.3 187.4 L473.1 190.0 L473.8 187.6 L475.3 186.5 L476.3 185.0 L477.8 187.0 L479.0 186.6 L480.8 188.3 L482.3 185.9 L483.3 185.2 L485.0 184.2 L486.4 182.6 L488.3 181.7 L488.7 180.5 L489.5 178.2 L490.1 177.4 L490.3 177.1 L491.0 173.9 L491.7 173.3 L491.7 175.3 L492.5 177.3 L492.4 177.8 L492.4 180.3 L493.1 181.3 L493.3 183.3 L495.1 184.0 L496.7 185.0 L498.1 184.1 L498.7 183.1 L500.0 180.8 L500.8 179.2 L502.1 176.9 L503.3 175.8 L503.8 174.8 L504.7 172.6 L506.2 170.1 L506.7 169.2 L506.9 167.9 L507.5 166.4 L508.2 163.8 L508.2 162.5 L508.4 162.2 L509.4 160.3 L509.2 159.0 L510.0 156.7 L510.5 158.3 L510.9 159.9 L510.9 160.8 L511.2 162.3 L511.7 165.5 L512.3 167.4 L512.5 168.3 L513.0 169.3 L513.3 171.1 L513.8 172.8 L513.8 174.6 L514.7 175.1 L515.0 176.2 L514.9 178.1 L515.6 181.2 L515.8 181.7 L516.4 179.8 L516.9 178.3 L516.9 178.0 L517.6 176.0 L518.0 175.1 L518.3 172.5 L519.0 171.7 L519.8 170.3 L520.3 168.5 L521.1 166.1 L521.7 165.0 L522.1 163.6 L522.7 162.6 L523.3 158.9 L524.2 158.3 L524.1 160.9 L524.5 160.9 L524.5 162.3 L525.1 165.3 L525.3 167.2 L525.1 168.5 L525.5 170.7 L525.8 171.7 L527.4 173.9 L528.3 175.2 L530.0 175.8 L530.6 178.3 L530.3 178.3 L530.7 179.5 L531.5 182.7 L531.7 184.3 L532.0 184.7 L531.9 185.9 L532.5 188.3 L533.1 189.3 L533.2 191.5 L533.4 192.8 L534.0 195.4 L534.5 196.2 L535.0 198.3 L536.6 196.7 L537.5 195.0 L538.1 196.8 L537.8 197.9 L538.4 200.3 L538.7 201.7 L539.2 202.1 L539.7 203.4 L540.0 205.1 L539.8 206.7 L540.7 210.0 L540.8 210.5 L540.8 209.0 L541.5 208.2 L541.7 206.0 L542.1 205.2 L542.4 204.0 L542.8 200.9 L543.3 200.0 L543.9 198.3 L543.9 197.0 L544.3 195.6 L545.0 193.3 L545.6 195.6 L545.9 196.3 L546.2 198.1 L546.9 199.1 L547.4 200.6 L547.5 203.3 L548.5 201.1 L550.0 200.0 L550.8 198.5 L551.0 197.8 L551.5 195.4 L552.2 194.6 L552.9 192.8 L553.3 191.0 L553.5 189.1 L553.6 188.7 L554.3 186.9 L554.2 184.7 L554.9 183.4 L555.0 181.7 L555.4 179.9 L556.5 177.8 L556.7 176.2 L557.5 175.0 L559.0 174.7 L560.1 172.0 L561.7 171.7 L562.6 169.7 L563.9 167.6 L565.0 166.7 L566.1 164.8 L567.5 164.2 L567.9 166.2 L567.4 168.3 L567.6 168.6 L568.3 171.0 L568.2 171.8 L568.0 173.8 L568.3 175.0 L568.9 176.0 L569.9 177.3 L570.8 180.0 L571.6 182.3 L572.5 183.3 L573.1 181.6 L573.6 179.9 L573.7 178.5 L574.4 177.2 L575.0 175.0 L575.6 176.5 L575.7 178.9 L576.0 179.4 L576.5 182.5 L576.7 183.3 L577.7 182.1 L578.6 180.4 L579.2 178.3 L581.7 179.2 L582.0 177.5 L582.0 176.4 L582.1 174.4 L582.8 173.4 L582.9 170.9 L583.0 169.8 L583.3 168.3 L583.9 166.4 L584.4 165.9 L584.6 163.7 L585.5 161.4 L585.8 160.0 L586.4 159.4 L586.7 156.7 L587.4 155.6 L588.3 153.3 L588.9 151.7 L588.6 150.1 L589.2 148.8 L589.4 146.9 L589.9 145.0 L590.0 143.3 L590.1 142.6 L590.2 140.4 L590.5 138.9 L590.5 137.7 L591.0 135.0 L591.0 132.4 L591.0 131.4 L591.0 129.8 L591.3 128.8 L591.4 126.1 L591.4 125.5 L591.7 123.3 L592.4 121.7 L592.3 120.6 L592.9 117.7 L593.1 117.2 L594.0 115.3 L594.2 113.3 L594.6 111.8 L594.8 111.0 L595.3 108.7 L595.8 106.7 L596.6 105.7 L597.0 102.9 L597.7 100.9 L598.3 100.0 L599.2 98.0 L599.8 96.1 L600.1 94.4 L600.8 93.3 L602.0 94.3 L603.3 96.7 L603.2 98.9 L603.6 99.5 L603.8 101.6 L604.1 103.7 L604.5 104.7 L604.9 107.5 L604.5 109.1 L605.0 110.0 L606.1 109.0 L606.4 107.4 L607.5 105.0 L608.1 102.3 L608.2 102.7 L609.1 99.5 L609.2 97.6 L610.0 96.7 L610.3 98.8 L610.9 98.9 L611.8 101.8 L611.8 103.6 L612.5 104.2 L612.8 103.2 L613.0 101.9 L613.3 100.2 L613.0 98.3 L613.5 96.8 L613.6 95.6 L613.9 92.6 L613.8 90.8 L614.2 90.0 L614.4 87.5 L614.5 86.2 L614.7 85.5 L614.9 84.8 L614.7 83.2 L615.1 81.1 L615.4 80.2 L615.4 77.8 L616.0 75.6 L615.8 75.0 L616.1 73.6 L615.9 71.9 L616.6 70.9 L616.7 68.3 L617.2 67.7 L618.0 64.9 L618.6 63.3 L618.6 62.5 L618.6 58.9 L618.6 58.8 L618.7 56.9 L618.7 54.6 L618.7 54.1 L618.7 51.4 L618.7 50.0" fill="none" stroke="#ad5555" stroke-width="3.0" stroke-linejoin="round" stroke-linecap="round"/>
</svg></body></html>
